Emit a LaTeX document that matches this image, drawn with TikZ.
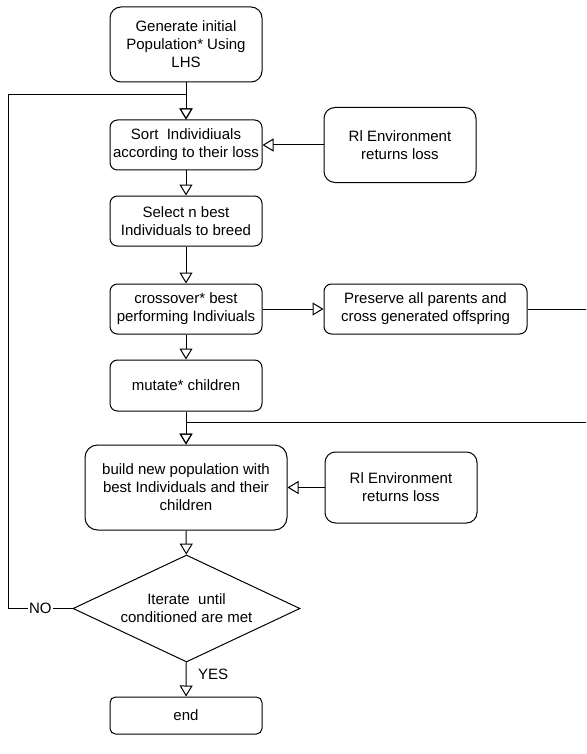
\documentclass[tikz,border=0pt]{standalone}
\usepackage{fontspec}
\setmainfont{Liberation Sans}
\usetikzlibrary{arrows.meta,shapes.geometric}

\begin{document}
\begin{tikzpicture}[x=1pt,y=-1pt,line width=1pt,
		>={Triangle[open,length=11pt,width=13pt]},
		font=\fontsize{15}{18}\selectfont]
			\useasboundingbox[fill=white] (0,0) rectangle (586,754);
			\clip (0,0) rectangle (586,754);
			\begin{scope}[every node/.style={draw,rounded corners=7.5pt,align=center,inner sep=0pt,minimum width=152pt,minimum height=50pt}]
				\node (init) at (186,44.5) [minimum height=75pt,rounded corners=11pt] {Generate initial\\Population* Using\\LHS};
				\node (sort) at (186,145) {Sort\ \ Individiuals\\according to their loss};
				\node (envA) at (400,145) [minimum height=75pt,rounded corners=11pt] {Rl Environment\\returns loss};
				\node (select) at (186,221) {Select n best\\Individuals to breed};
				\node (cross) at (186,309) {crossover* best\\performing Indiviuals};
				\node (keep) at (425.5,309) [minimum width=203pt] {Preserve all parents and\\cross generated offspring};
				\node (mutate) at (186,385.5) [minimum height=51pt] {mutate* children};
				\node (build) at (186,487.5) [minimum width=202pt,minimum height=85pt,rounded corners=12.5pt] {build new population with\\best Individuals and their\\children};
				\node (envB) at (401,487.5) [minimum height=71pt,rounded corners=10.5pt] {Rl Environment\\returns loss};
				\node (end) at (186,715.5) [minimum height=37pt,rounded corners=5.5pt] {end};
			\end{scope}
			\node (cond) at (186.5,608.5) [draw,diamond,aspect=2.12,inner sep=0pt,align=center,minimum width=227pt,minimum height=107pt] {Iterate\ \ until\\conditioned are met};
			\coordinate (loopL) at (8,95);
			\coordinate (loopR) at (594,422);
			\path [->] (init) edge (sort);
			\path [->] (envA) edge (sort);
			\path [->] (sort) edge (select);
			\path [->] (select) edge (cross);
			\path [->] (cross) edge (keep);
			\path [->] (cross) edge (mutate);
			\path [->] (mutate) edge (build);
			\path [->] (envB) edge (build);
			\path [->] (build) edge (cond);
			\path [->] (cond) edge node[pos=0.35,right=8pt] {YES} (end);
			\draw [->] (keep.east) -| (loopR) -| (build.north);
			\draw [->] (cond.west) -| node[pos=0.25,fill=white,inner sep=1pt] {NO} (loopL) -| (sort.north);
		\end{tikzpicture}
\end{document}
